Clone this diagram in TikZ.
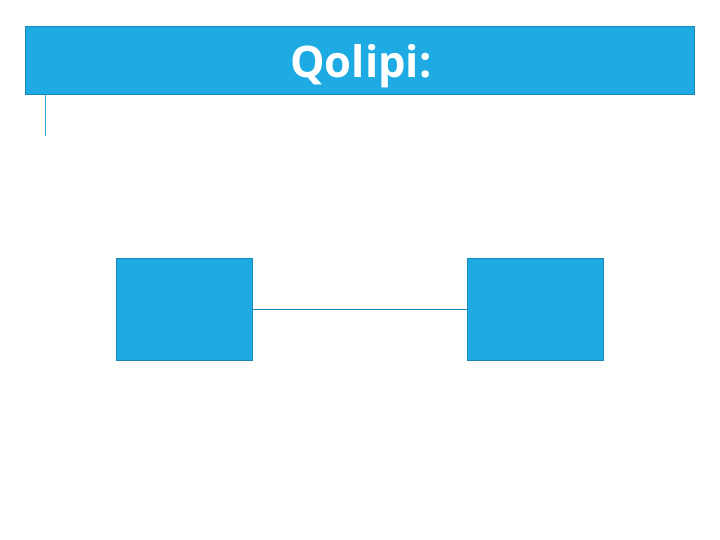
\documentclass[tikz,border=0pt]{standalone}
\usepackage{fontspec}
\setmainfont{Open Sans}
\usetikzlibrary{positioning}
\definecolor{slideblue}{HTML}{1EAAE3}
\definecolor{edgeblue}{HTML}{1A88B8}
\definecolor{ruleblue}{HTML}{3AA6D8}
\tikzset{
  slidebox/.style={draw=edgeblue, line width=0.6pt, fill=slideblue, minimum width=136pt, minimum height=102pt, inner sep=0pt},
  link/.style={draw=edgeblue, line width=0.5pt}
}
\begin{document}
\begin{tikzpicture}[x=1pt, y=-1pt]

% Page frame, same proportions as the slide
\useasboundingbox (0,0) rectangle (720,540);

% Header bar with title
\node [draw=edgeblue, line width=0.6pt, fill=slideblue, minimum width=669pt, minimum height=68pt, inner sep=0pt] (header) at (359.5,60) {};
\node [text=white, font=\fontsize{43.5}{48}\selectfont\bfseries, anchor=base] (title) at (361,78) {Qolipi:};

% Small rule under the header
\coordinate (ruletop) at (45,94);
\coordinate (rulebot) at (45,136);
\draw [draw=ruleblue, line width=1pt] (ruletop) -- (rulebot);

% The two boxes and the line between them
\node [slidebox] (left) at (184,309) {};
\node [slidebox] (right) at (535.5,309) {};
\draw [link] (left.east) -- (right.west);

\end{tikzpicture}
\end{document}
